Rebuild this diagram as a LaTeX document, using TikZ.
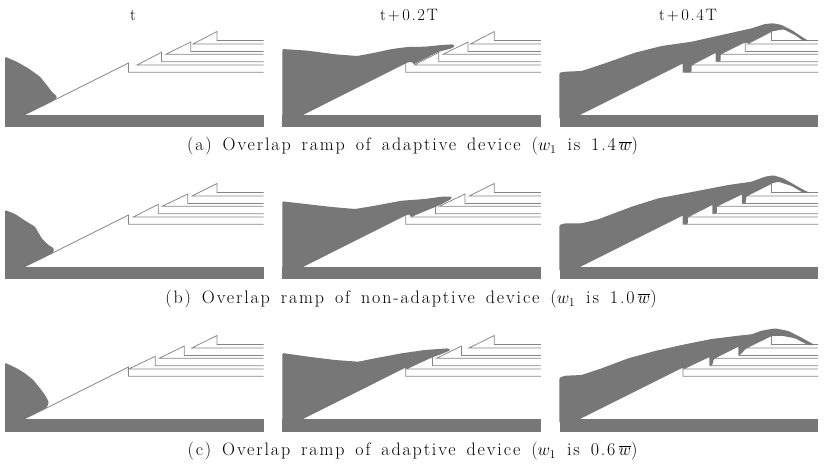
\documentclass[tikz,border=0pt]{standalone}
\usepackage{fontspec}
\setmainfont[LetterSpace=10.3,WordSpace=1.5]{Latin Modern Roman}
\tikzset{
  flowfill/.style={fill=flowgray,draw=none,rounded corners=1.2pt},
  rampline/.style={draw=linegray,line width=0.75pt},
  captiontext/.style={font=\fontsize{18}{21}\selectfont,inner sep=0pt,anchor=center},
  timetext/.style={font=\fontsize{16.5}{19}\selectfont,inner sep=0pt,anchor=center}
}
\definecolor{flowgray}{HTML}{777777}
\definecolor{linegray}{HTML}{858585}
\newcommand{\deviceoutline}[5]{
  \draw[rampline] (25,114.7) -- (128.5,63) -- (128.5,72.3) -- (263.5,72.3);
  \draw[rampline] (263.5,65) -- (#1,65) -- (#2,52.3) -- (#2,61.7) -- (263.5,61.7);
  \draw[rampline] (263.5,54.2) -- (#3,54.2) -- (#4,42) -- (#4,51.5) -- (263.5,51.5);
  \draw[rampline] (263.5,44) -- (#5,44) -- (217,31.5) -- (217,40.5) -- (263.5,40.5);
}
\begin{document}
\begin{tikzpicture}[x=1pt,y=-1pt]
\useasboundingbox (0,0) rectangle (824,470);
\foreach \ry/\fa/\fb/\fc/\fd/\fe/\barend in {0/137/161.5/166/190.7/193/127,152/133.3/158.3/162.3/187.7/192/127,304/128.7/155.3/159.3/184.3/191.7/127.7}{
  \foreach \cx in {0,277.3,554.5}{
    \begin{scope}[xshift=\cx pt,yshift=-\ry pt]
      \deviceoutline{\fa}{\fb}{\fc}{\fd}{\fe}
      \fill[flowgray] (5,115) rectangle (263.5,\barend);
    \end{scope}
  }
}
\begin{scope}
\fill[flowfill] (5,119) -- (5,56.7) -- (16.7,61.7) -- (28.3,68.3) -- (40,76.7) -- (46.7,85) -- (51.7,91.7) -- (57.3,96.7) -- (55,99.6) -- (25,114.7) -- (25,119) -- cycle;
\fill[flowfill] (282.3,119) -- (282.3,49) -- (308,50.7) -- (335,54.3) -- (357,56) -- (372,53.3) -- (392,49) -- (408,47) -- (425,46.7) -- (442,45) -- (453,44.3) -- (455,46) -- (451.7,48.3) -- (438,52) -- (428,57) -- (413.5,64.5) -- (412,61.7) -- (405.8,63) -- (303.3,114.7) -- (303.3,119) -- cycle;
\fill[flowfill] (559.3,119) -- (559.3,72.7) -- (565,71.7) -- (581.7,71) -- (605,63.3) -- (635,52.7) -- (661.7,46) -- (691.7,41.7) -- (721.7,35) -- (751.7,28.3) -- (765,24) -- (773.3,23.3) -- (781.7,25) -- (791.7,30) -- (801.7,36.7) -- (808.3,40.9) -- (803.3,40.9) -- (795,35) -- (783.3,29.3) -- (771.5,31.5) -- (747.5,43.5) -- (745,42) -- (720.5,54) -- (720.5,61.7) -- (716,61.7) -- (716,52.3) -- (691.5,65) -- (691.5,72.3) -- (683,72.3) -- (683,63) -- (580,114.7) -- (580,119) -- cycle;
\end{scope}
\begin{scope}[yshift=-152pt]
\fill[flowfill] (5,119) -- (5,58) -- (15,62) -- (26.7,69.7) -- (35,74.7) -- (41.7,86.3) -- (48.3,93) -- (54,96.3) -- (53.3,100.7) -- (25,114.7) -- (25,119) -- cycle;
\fill[flowfill] (282.3,119) -- (282.3,49.3) -- (308.3,52.3) -- (331.7,55) -- (355,57) -- (375,53.7) -- (401.7,48.7) -- (425,47) -- (441.7,44.7) -- (451.7,44.7) -- (451.7,46.7) -- (440,53) -- (410.6,65) -- (410,62.5) -- (405.8,63) -- (303.3,114.7) -- (303.3,119) -- cycle;
\fill[flowfill] (559.3,119) -- (559.3,73) -- (565,71.3) -- (581.7,71.3) -- (598.3,67.3) -- (631.7,54.7) -- (658.3,46.3) -- (688.3,40.7) -- (728.3,33) -- (751.7,29.7) -- (765,24.7) -- (773.3,23.3) -- (783.3,26.3) -- (795,33) -- (805,38.7) -- (810.7,40.9) -- (803.3,40.9) -- (791.7,34) -- (778.3,29.7) -- (771.5,31.5) -- (746.5,44) -- (745.5,51.7) -- (742.2,51.7) -- (742.2,42) -- (716.8,54.3) -- (716.8,61.7) -- (712.8,61.7) -- (712.8,52.3) -- (687.8,65) -- (687.8,72.3) -- (683,72.3) -- (683,63) -- (580,114.7) -- (580,119) -- cycle;
\end{scope}
\begin{scope}[yshift=-304pt]
\fill[flowfill] (5,119) -- (5,58.7) -- (16.7,64.3) -- (25,69.3) -- (33.3,76) -- (40,84.3) -- (45,91) -- (49,98.3) -- (46.7,103.7) -- (25,114.7) -- (25,119) -- cycle;
\fill[flowfill] (282.3,119) -- (282.3,49) -- (308.3,52.7) -- (335,56) -- (358.3,57.7) -- (375,54.3) -- (401.7,49.3) -- (425,46) -- (448.3,44.3) -- (450.7,46) -- (441.7,50) -- (433,53) -- (406,65.3) -- (405.8,63.3) -- (303.3,114.7) -- (303.3,119) -- cycle;
\fill[flowfill] (559.3,119) -- (559.3,73.7) -- (565,71.7) -- (581.7,71) -- (601.7,64.3) -- (628.3,54.3) -- (655,47) -- (681.7,41) -- (711.7,35) -- (738.3,31.7) -- (751.7,30.3) -- (761.7,26.7) -- (775,24.3) -- (788.3,27) -- (801.7,33.7) -- (815,41.2) -- (808.3,41.2) -- (795,34.3) -- (781.7,31.7) -- (771.5,32) -- (746.2,44.3) -- (741,50) -- (739,51.7) -- (738.8,42.3) -- (713.8,55) -- (712,62) -- (709.8,62) -- (709.8,52.7) -- (684,65) -- (683,63.3) -- (580,114.7) -- (580,119) -- cycle;
\end{scope}
\node[timetext] (timeA) at (133,15) {t};
\node[timetext] (timeB) at (409,15) {t+\,0.2T};
\node[timetext] (timeC) at (688,15) {t+\,0.4T};
\node[captiontext] (captionA) at (412.5,146.5) {(a) Overlap ramp of adaptive device ($w_1$ is 1.4\,$\overline{w}$)};
\node[captiontext] (captionB) at (411,299) {(b) Overlap ramp of non-adaptive device ($w_1$ is 1.0\,$\overline{w}$)};
\node[captiontext] (captionC) at (412.5,451) {(c) Overlap ramp of adaptive device ($w_1$ is 0.6\,$\overline{w}$)};
\end{tikzpicture}
\end{document}
